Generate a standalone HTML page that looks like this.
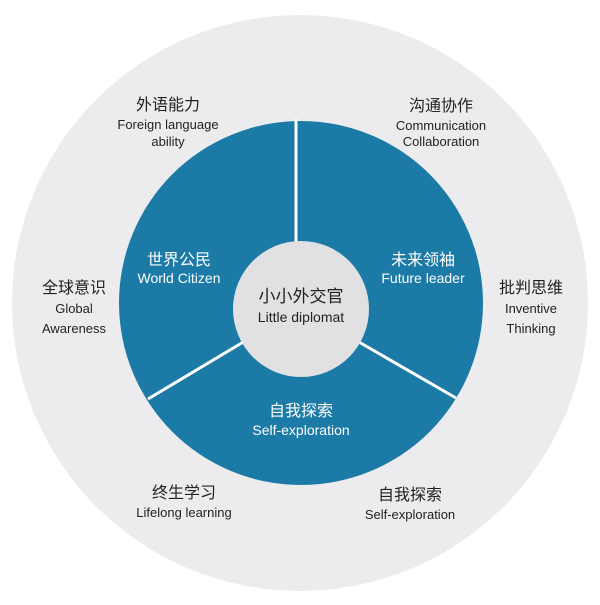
<!DOCTYPE html>
<html><head><meta charset="utf-8"><style>
body{margin:0;background:#fff;}
svg text{font-family:"Liberation Sans","Noto Sans CJK SC",sans-serif;text-anchor:middle;}
</style></head><body>
<svg width="600" height="600" viewBox="0 0 600 600">
<circle cx="300" cy="303" r="288" fill="#ececef"/>
<circle cx="301" cy="303" r="182" fill="#1b7aa6"/>
<line x1="296" y1="119" x2="296" y2="250" stroke="#fff" stroke-width="3"/>
<line x1="250" y1="338" x2="148" y2="399" stroke="#fff" stroke-width="3"/>
<line x1="352" y1="338" x2="456" y2="398" stroke="#fff" stroke-width="3"/>
<circle cx="301" cy="309" r="68" fill="#e1e1e4"/>
<g fill="#222">
<text x="301" y="302" font-size="17">小小外交官</text>
<text x="301" y="322" font-size="14">Little diplomat</text>
<text x="168" y="110" font-size="16">外语能力</text>
<text x="168" y="129" font-size="13">Foreign language</text>
<text x="168" y="146" font-size="13">ability</text>
<text x="441" y="111" font-size="16">沟通协作</text>
<text x="441" y="130" font-size="13">Communication</text>
<text x="441" y="146" font-size="13">Collaboration</text>
<text x="74" y="293" font-size="16">全球意识</text>
<text x="74" y="313" font-size="13">Global</text>
<text x="74" y="333" font-size="13">Awareness</text>
<text x="531" y="293" font-size="16">批判思维</text>
<text x="531" y="313" font-size="13">Inventive</text>
<text x="531" y="333" font-size="13">Thinking</text>
<text x="184" y="498" font-size="16">终生学习</text>
<text x="184" y="517" font-size="13">Lifelong learning</text>
<text x="410" y="500" font-size="16">自我探索</text>
<text x="410" y="519" font-size="13">Self-exploration</text>
</g>
<g fill="#fff">
<text x="179" y="265" font-size="16">世界公民</text>
<text x="179" y="283" font-size="14">World Citizen</text>
<text x="423" y="265" font-size="16">未来领袖</text>
<text x="423" y="283" font-size="14">Future leader</text>
<text x="301" y="416" font-size="16">自我探索</text>
<text x="301" y="435" font-size="14">Self-exploration</text>
</g>
</svg>
</body></html>
